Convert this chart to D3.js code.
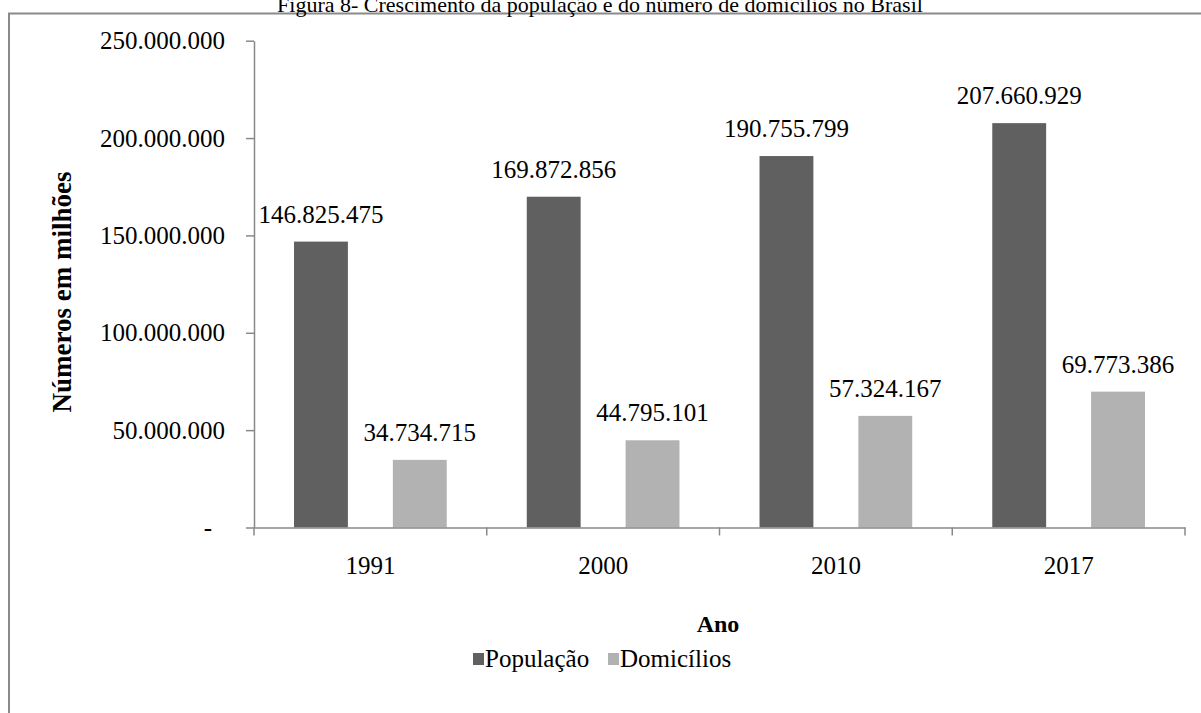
<!DOCTYPE html>
<html>
<head>
<meta charset="utf-8">
<script src="https://cdn.jsdelivr.net/npm/d3@7"></script>
<style>
  body { margin: 0; background: #fff; }
  svg text { font-family: "Liberation Serif", "Times New Roman", serif; fill: #000; }
</style>
</head>
<body>
<svg id="chart" width="1201" height="713"></svg>
<script>
'use strict';

var anos = ['1991', '2000', '2010', '2017'];
var series = ['População', 'Domicílios'];
var populacao = [146825475, 169872856, 190755799, 207660929];
var domicilios = [34734715, 44795101, 57324167, 69773386];
var yTicks = [0, 50000000, 100000000, 150000000, 200000000, 250000000];
var colors = ['#606060', '#b2b2b2'];

var titulo = 'Figura 8- Crescimento da população e do número de domicílios no Brasil';

var svg = d3.select('#chart');
var axisColor = '#898989';

// formato brasileiro com ponto de milhar
var br = d3.formatLocale({decimal: ',', thousands: '.', grouping: [3], currency: ['R$', '']});
var fmt = br.format(',d');

var rows = anos.map(function (a, i) {
    return {ano: a, values: [populacao[i], domicilios[i]]};
});

var x0 = d3.scaleBand().domain(anos).range([254, 1185]).padding(0);
var x1 = d3.scaleBand().domain(series).range([0, x0.bandwidth()])
    .paddingInner(0.455).paddingOuter(0.405);
var y = d3.scaleLinear().domain([0, 250000000]).range([527.5, 40.7]);

// moldura do gráfico
svg.append('rect')
    .attr('x', 9).attr('y', 13.5)
    .attr('width', 1220).attr('height', 740)
    .attr('fill', 'none')
    .attr('stroke', '#8a8a8a')
    .attr('stroke-width', 2);

// título (cortado no topo, como no original)
svg.append('text')
    .attr('x', 600).attr('y', 12)
    .attr('text-anchor', 'middle')
    .style('font-size', '22px')
    .text(titulo);

// barras
var grp = svg.append('g').selectAll('g')
    .data(rows)
    .enter().append('g')
    .attr('transform', function (d) { return 'translate(' + x0(d.ano) + ',0)'; });

grp.selectAll('rect')
    .data(function (d) { return d.values.map(function (v, i) { return {s: series[i], v: v, i: i}; }); })
    .enter().append('rect')
    .attr('x', function (d) { return x1(d.s); })
    .attr('y', function (d) { return y(d.v); })
    .attr('width', x1.bandwidth())
    .attr('height', function (d) { return y(0) - y(d.v); })
    .attr('fill', function (d) { return colors[d.i]; });

grp.selectAll('text')
    .data(function (d) { return d.values.map(function (v, i) { return {s: series[i], v: v}; }); })
    .enter().append('text')
    .attr('x', function (d) { return x1(d.s) + x1.bandwidth() / 2; })
    .attr('y', function (d) { return y(d.v) - 19; })
    .attr('text-anchor', 'middle')
    .style('font-size', '25px')
    .text(function (d) { return fmt(d.v); });

// eixo y
var yAxis = svg.append('g')
    .attr('transform', 'translate(254,0)')
    .call(d3.axisLeft(y).tickValues(yTicks).tickSize(8).tickSizeOuter(0).tickPadding(21)
        .tickFormat(function (d) { return d === 0 ? '-' : fmt(d); }));
yAxis.select('.domain').attr('stroke', axisColor).attr('stroke-width', 1.5);
yAxis.selectAll('.tick line').attr('stroke', axisColor).attr('stroke-width', 1.5);
yAxis.selectAll('.tick text')
    .style('font-size', '25px')
    .attr('font-family', null)
    .attr('dx', function (d) { return d === 0 ? -13 : 0; });

// eixo x
var xAxis = svg.append('g')
    .attr('transform', 'translate(0,' + y(0) + ')')
    .call(d3.axisBottom(x0).tickSize(0).tickSizeOuter(0).tickPadding(29));
xAxis.select('.domain').attr('stroke', axisColor).attr('stroke-width', 1.5);
xAxis.selectAll('.tick text').style('font-size', '25px').attr('font-family', null);

var bounds = anos.map(function (a) { return x0(a); }).concat([x0.range()[1]]);
xAxis.selectAll('.sep')
    .data(bounds)
    .enter().append('line')
    .attr('class', 'sep')
    .attr('x1', function (d) { return d; }).attr('x2', function (d) { return d; })
    .attr('y1', 0).attr('y2', 8)
    .attr('stroke', axisColor).attr('stroke-width', 1.5);

// títulos dos eixos
svg.append('text')
    .attr('transform', 'translate(71,292) rotate(-90)')
    .attr('text-anchor', 'middle')
    .style('font-size', '27px')
    .style('font-weight', 'bold')
    .text('Números em milhões');

svg.append('text')
    .attr('x', 718).attr('y', 632)
    .attr('text-anchor', 'middle')
    .style('font-size', '24px')
    .style('font-weight', 'bold')
    .text('Ano');

// legenda
var legX = [473, 608];
var leg = svg.append('g').selectAll('g')
    .data(series)
    .enter().append('g')
    .attr('transform', function (d, i) { return 'translate(' + legX[i] + ',667)'; });
leg.append('rect')
    .attr('x', 0).attr('y', -14)
    .attr('width', 11).attr('height', 12)
    .attr('fill', function (d, i) { return colors[i]; });
leg.append('text')
    .attr('x', 12).attr('y', 0)
    .style('font-size', '25px')
    .text(function (d) { return d; });
</script>
</body>
</html>
